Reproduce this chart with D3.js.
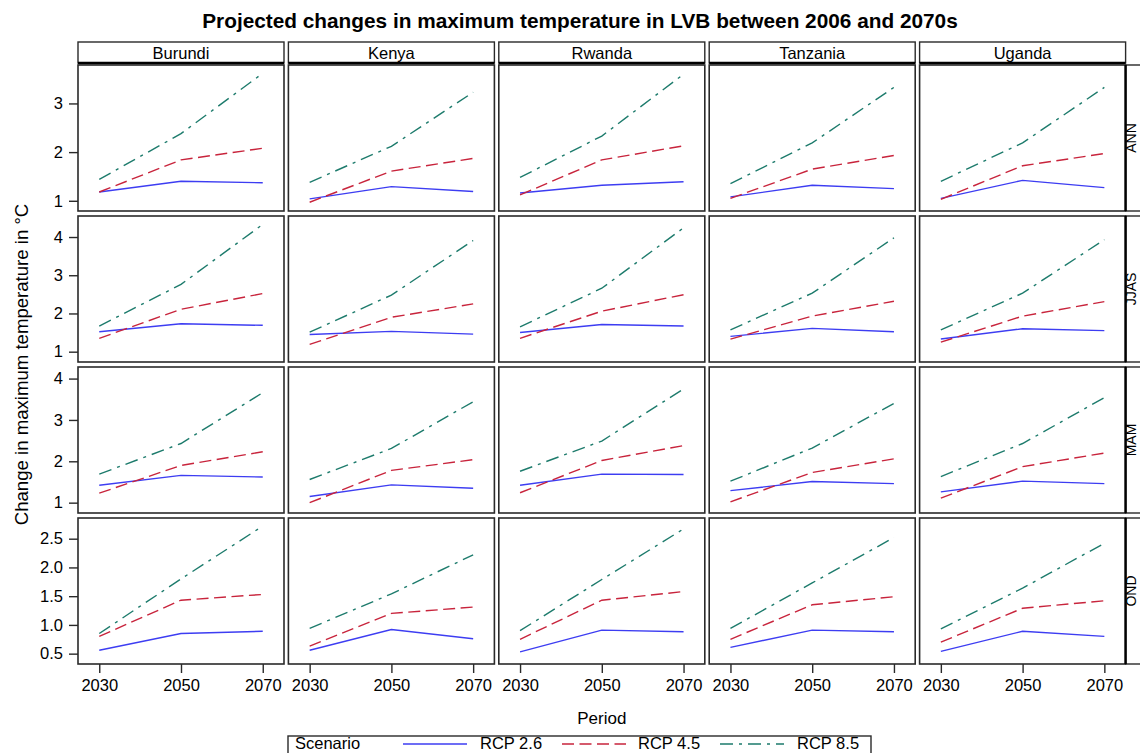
<!DOCTYPE html>
<html>
<head>
<meta charset="utf-8">
<script src="https://cdn.jsdelivr.net/npm/d3@7/dist/d3.min.js"></script>
<style>
  html, body { margin: 0; padding: 0; background: #fff; }
  svg { display: block; }
  text { font-family: "Liberation Sans", Arial, sans-serif; fill: #000; }
</style>
</head>
<body>
<svg id="chart" width="1140" height="753"></svg>
<script>
// Countries (columns), seasons (rows) and projection periods
const countries = ["Burundi", "Kenya", "Rwanda", "Tanzania", "Uganda"];
const seasons = ["ANN", "JJAS", "MAM", "OND"];
const periods = [2030, 2050, 2070];
const scenarios = ["RCP 2.6", "RCP 4.5", "RCP 8.5"];

// Change in maximum temperature (°C), indexed [season][country][period]
const rcp26 = [
  [[1.18, 1.40, 1.37], [1.04, 1.29, 1.19], [1.16, 1.32, 1.39], [1.08, 1.32, 1.25], [1.05, 1.42, 1.27]],
  [[1.52, 1.73, 1.69], [1.45, 1.53, 1.46], [1.50, 1.71, 1.67], [1.40, 1.61, 1.52], [1.33, 1.60, 1.55]],
  [[1.42, 1.66, 1.62], [1.15, 1.43, 1.35], [1.42, 1.69, 1.68], [1.29, 1.51, 1.46], [1.26, 1.52, 1.46]],
  [[0.56, 0.85, 0.89], [0.56, 0.92, 0.76], [0.53, 0.91, 0.88], [0.61, 0.91, 0.88], [0.54, 0.89, 0.80]]
];
const rcp45 = [
  [[1.18, 1.84, 2.08], [0.97, 1.61, 1.87], [1.12, 1.84, 2.13], [1.05, 1.65, 1.93], [1.03, 1.72, 1.97]],
  [[1.35, 2.11, 2.52], [1.19, 1.90, 2.25], [1.35, 2.06, 2.49], [1.33, 1.93, 2.32], [1.25, 1.93, 2.31]],
  [[1.23, 1.90, 2.23], [1.00, 1.78, 2.04], [1.24, 2.02, 2.38], [1.02, 1.73, 2.06], [1.11, 1.87, 2.20]],
  [[0.80, 1.43, 1.53], [0.63, 1.20, 1.31], [0.75, 1.43, 1.58], [0.75, 1.35, 1.49], [0.70, 1.29, 1.42]]
];
const rcp85 = [
  [[1.44, 2.38, 3.62], [1.38, 2.12, 3.23], [1.48, 2.33, 3.60], [1.35, 2.19, 3.33], [1.40, 2.19, 3.33]],
  [[1.67, 2.76, 4.33], [1.51, 2.48, 3.91], [1.65, 2.66, 4.24], [1.57, 2.53, 3.98], [1.57, 2.53, 3.93]],
  [[1.69, 2.43, 3.66], [1.56, 2.31, 3.44], [1.76, 2.49, 3.75], [1.52, 2.32, 3.40], [1.63, 2.43, 3.54]],
  [[0.85, 1.80, 2.72], [0.94, 1.54, 2.22], [0.90, 1.79, 2.67], [0.94, 1.73, 2.52], [0.93, 1.64, 2.42]]
];

// Y-axis range and tick labels for each season row
const yDomains = [[0.79, 3.79], [0.73, 4.55], [0.75, 4.28], [0.32, 2.86]];
const yTicks = [[1, 2, 3], [1, 2, 3, 4], [1, 2, 3, 4], [0.5, 1.0, 1.5, 2.0, 2.5]];
const yTickFormats = [d3.format("d"), d3.format("d"), d3.format("d"), d3.format(".1f")];
const xDomain = [2024.8, 2075.2];

const series = [
  { name: scenarios[0], values: rcp26, color: "#3d3df2", dash: null },
  { name: scenarios[1], values: rcp45, color: "#c8243c", dash: "12,5.5" },
  { name: scenarios[2], values: rcp85, color: "#1d7b6c", dash: "13,6,3,6" }
];

// Panel grid geometry
const gridLeft = 78, panelW = 206, colStep = 210.4;
const gridTop = 65, panelH = 146, rowStep = 151;
const stripTop = 42, stripH = 21;

const svg = d3.select("#chart");
const FONT = 16.5;

// Title
svg.append("text")
  .attr("x", 580).attr("y", 28)
  .attr("text-anchor", "middle")
  .attr("font-weight", "bold")
  .attr("font-size", 20.8)
  .text("Projected changes in maximum temperature in LVB between 2006 and 2070s");

const line = d3.line();

seasons.forEach((season, r) => {
  const top = gridTop + r * rowStep;
  const y = d3.scaleLinear().domain(yDomains[r]).range([top + panelH, top]);

  countries.forEach((country, c) => {
    const left = gridLeft + c * colStep;
    const x = d3.scaleLinear().domain(xDomain).range([left, left + panelW]);
    const g = svg.append("g");

    // Series lines
    series.forEach(s => {
      const pts = periods.map((p, k) => [x(p), y(s.values[r][c][k])]);
      g.append("path")
        .attr("d", line(pts))
        .attr("fill", "none")
        .attr("stroke", s.color)
        .attr("stroke-width", 1.4)
        .attr("stroke-dasharray", s.dash);
    });

    // Panel frame
    g.append("rect")
      .attr("x", left).attr("y", top)
      .attr("width", panelW).attr("height", panelH)
      .attr("fill", "none").attr("stroke", "#2a2a2a").attr("stroke-width", 1.6);

    // Column strips above the first row
    if (r === 0) {
      g.append("rect")
        .attr("x", left).attr("y", stripTop)
        .attr("width", panelW).attr("height", stripH)
        .attr("fill", "#fff").attr("stroke", "#2a2a2a").attr("stroke-width", 1.4);
      g.append("line")
        .attr("x1", left).attr("x2", left + panelW)
        .attr("y1", stripTop + stripH).attr("y2", stripTop + stripH)
        .attr("stroke", "#000").attr("stroke-width", 2.4);
      g.append("text")
        .attr("x", left + panelW / 2).attr("y", stripTop + 17)
        .attr("text-anchor", "middle")
        .attr("font-size", FONT)
        .text(country);
    }

    // X axis below the last row
    if (r === seasons.length - 1) {
      const ax = svg.append("g")
        .attr("transform", `translate(0,${top + panelH})`)
        .call(d3.axisBottom(x).tickValues(periods).tickFormat(d3.format("d"))
          .tickSize(9).tickPadding(6));
      ax.select(".domain").remove();
      ax.selectAll(".tick line").attr("stroke", "#2a2a2a").attr("stroke-width", 1.4);
      ax.selectAll(".tick text")
        .attr("font-size", FONT)
        .attr("font-family", "Liberation Sans, Arial, sans-serif")
        .attr("fill", "#000");
    }
  });

  // Y axis on the left of the first column
  const ay = svg.append("g")
    .attr("transform", `translate(${gridLeft},0)`)
    .call(d3.axisLeft(y).tickValues(yTicks[r]).tickFormat(yTickFormats[r])
      .tickSize(9).tickPadding(6));
  ay.select(".domain").remove();
  ay.selectAll(".tick line").attr("stroke", "#2a2a2a").attr("stroke-width", 1.4);
  ay.selectAll(".tick text")
    .attr("font-size", FONT)
    .attr("font-family", "Liberation Sans, Arial, sans-serif")
    .attr("fill", "#000");

  // Row strip on the right
  const sx = gridLeft + 4 * colStep + panelW;
  svg.append("rect")
    .attr("x", sx).attr("y", top)
    .attr("width", 24).attr("height", panelH)
    .attr("fill", "#fff").attr("stroke", "#2a2a2a").attr("stroke-width", 1.4);
  svg.append("line")
    .attr("x1", sx).attr("x2", sx)
    .attr("y1", top).attr("y2", top + panelH)
    .attr("stroke", "#000").attr("stroke-width", 2.4);
  svg.append("text")
    .attr("transform", `translate(${sx + 10.5},${top + panelH / 2}) rotate(-90)`)
    .attr("text-anchor", "middle")
    .attr("font-size", 14)
    .text(season);
});

// Axis titles
svg.append("text")
  .attr("transform", `translate(28,${gridTop + (3 * rowStep + panelH) / 2}) rotate(-90)`)
  .attr("text-anchor", "middle")
  .attr("font-size", 18.6)
  .text("Change in maximum temperature in \u00B0C");

svg.append("text")
  .attr("x", gridLeft + (4 * colStep + panelW) / 2).attr("y", 724)
  .attr("text-anchor", "middle")
  .attr("font-size", 17)
  .text("Period");

// Legend
const lg = svg.append("g");
lg.append("rect")
  .attr("x", 288).attr("y", 736).attr("width", 583).attr("height", 30)
  .attr("fill", "#fff").attr("stroke", "#2a2a2a").attr("stroke-width", 1.4);
lg.append("text").attr("x", 295).attr("y", 749).attr("font-size", 16.5).text("Scenario");
const legendLineX = [403, 562, 720];
const legendTextX = [480, 638, 797];
series.forEach((s, i) => {
  lg.append("line")
    .attr("x1", legendLineX[i]).attr("x2", legendLineX[i] + 64)
    .attr("y1", 744).attr("y2", 744)
    .attr("stroke", s.color).attr("stroke-width", 1.4)
    .attr("stroke-dasharray", s.dash);
  lg.append("text").attr("x", legendTextX[i]).attr("y", 749).attr("font-size", 16.5).text(s.name);
});
</script>
</body>
</html>
